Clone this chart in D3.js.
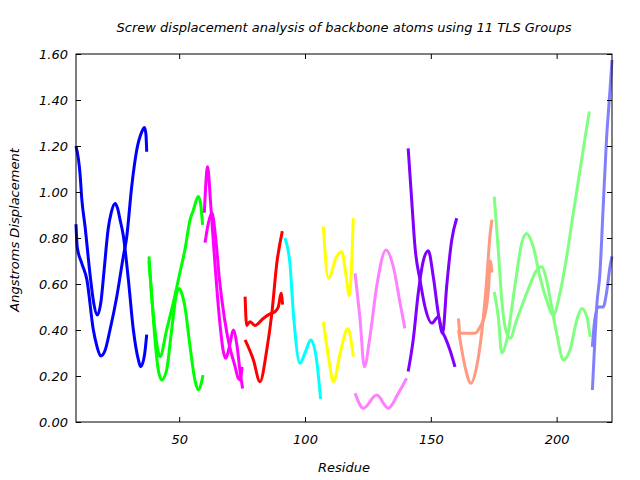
<!DOCTYPE html>
<html><head><meta charset="utf-8">
<script src="https://cdn.jsdelivr.net/npm/d3@7"></script>
<style>body{margin:0;background:#fff}text{font-family:"DejaVu Sans",sans-serif;font-style:italic}</style>
</head><body><svg id="c" width="640" height="480"></svg>
<script>
const title = "Screw displacement analysis of backbone atoms using 11 TLS Groups";
const xLabel = "Residue";
const yLabel = "Angstroms Displacement";
const xTicks = [50, 100, 150, 200];
const yTicks = [0, 0.2, 0.4, 0.6, 0.8, 1.0, 1.2, 1.4, 1.6];
const groupColors = ["#0000ff","#00ff00","#ff00ff","#ff0000","#00ffff","#ffff00","#ff80ff","#8000ff","#ff9980","#80ff80","#8080ff"];

// group 1 (blue)
const g1a = [[9,1.20],[10.6,1.08],[11.3,0.97],[12.6,0.85],[14.6,0.64],[16,0.52],[17.5,0.465],[19,0.53],[20,0.64],[21.8,0.84],[23,0.91],[24.5,0.95],[25.5,0.93],[26.5,0.88],[27.8,0.81],[29.8,0.62],[31.8,0.40],[33.8,0.27],[34.7,0.24],[36.2,0.29],[37.1,0.38]];
const g1b = [[9,0.86],[9.5,0.76],[11.3,0.69],[13.3,0.62],[15.9,0.40],[17.3,0.33],[18.8,0.287],[20.5,0.31],[22.5,0.40],[25.2,0.545],[27.8,0.72],[29.1,0.80],[31.1,1.02],[33.1,1.18],[35.1,1.26],[36.2,1.28],[36.8,1.25],[37.1,1.175]];
// group 2 (green)
const g2a = [[38,0.72],[38.6,0.62],[39.7,0.47],[41.1,0.34],[42.4,0.284],[45,0.40],[47.7,0.52],[50.3,0.65],[52.3,0.75],[54.3,0.878],[55.6,0.92],[57.6,0.98],[58.5,0.95],[59.3,0.857]];
const g2b = [[38,0.70],[39.1,0.545],[40.4,0.357],[41.7,0.226],[43.1,0.183],[45,0.226],[47,0.40],[49,0.56],[49.9,0.58],[51,0.56],[52.3,0.50],[54.3,0.33],[56.3,0.18],[57.6,0.14],[59.5,0.204]];
// group 3 (magenta)
const g3a = [[60,0.91],[61.3,1.11],[62.5,0.95],[64,0.72],[66,0.45],[67.5,0.31],[68.5,0.277],[70,0.33],[71.5,0.40],[73,0.33],[74.2,0.22],[75.2,0.146]];
const g3b = [[60.3,0.78],[61.5,0.86],[63,0.91],[64.5,0.80],[66,0.62],[68,0.45],[70,0.33],[72,0.25],[73.5,0.19],[74.2,0.183],[75,0.24]];
// group 4 (red)
const g4a = [[76.2,0.545],[76.8,0.42],[78.1,0.436],[80.1,0.42],[83.4,0.45],[86.1,0.47],[88.1,0.48],[89.4,0.50],[90.5,0.56],[91.1,0.51]];
const g4b = [[76.2,0.357],[79.5,0.27],[82.1,0.175],[84.8,0.313],[86.8,0.47],[88.8,0.69],[91,0.83]];
// group 5 (cyan)
const g5a = [[92,0.80],[94,0.69],[95.4,0.47],[98,0.255],[100,0.30],[102.3,0.357],[104.6,0.27],[106.2,0.10]];
// group 6 (yellow)
const g6a = [[107.3,0.85],[109.3,0.625],[112.6,0.72],[114.6,0.74],[116.2,0.646],[117.6,0.55],[119.2,0.886]];
const g6b = [[107.3,0.436],[109.3,0.284],[111.3,0.175],[114,0.30],[117,0.407],[118.5,0.34],[119.2,0.284]];
// group 7 (pink)
const g7a = [[119.9,0.646],[121.9,0.443],[123.6,0.24],[125.8,0.37],[128.5,0.59],[132.2,0.748],[135.1,0.675],[137.8,0.516],[139.7,0.407]];
const g7b = [[119.9,0.125],[123.2,0.06],[128.5,0.117],[133.1,0.06],[137.1,0.125],[140.4,0.19]];
// group 8 (purple)
const g8a = [[141,1.19],[142.4,0.965],[143.7,0.762],[145.7,0.617],[147.7,0.50],[150.4,0.43],[153,0.458],[154.3,0.40],[155.6,0.37],[157.6,0.313],[159.6,0.24]];
const g8b = [[141,0.22],[143,0.357],[145,0.56],[147,0.70],[149,0.745],[151,0.63],[153,0.47],[154.7,0.386],[156.3,0.59],[158.3,0.79],[160.3,0.886]];
// group 9 (salmon)
const g9a = [[161,0.45],[161.6,0.386],[164.3,0.386],[167.6,0.386],[169.6,0.414],[171.6,0.47],[173,0.59],[173.6,0.70],[174.3,0.65]];
const g9b = [[161,0.40],[163.6,0.24],[165.9,0.168],[168.2,0.24],[170.2,0.386],[172,0.59],[173.6,0.82],[174.3,0.88]];
// group 10 (light green)
const g10a = [[175.2,0.98],[176.8,0.748],[178.2,0.53],[179.5,0.414],[181.5,0.364],[184.1,0.443],[188.1,0.56],[192.1,0.66],[194,0.675],[196,0.617],[198,0.50],[200,0.386],[202.7,0.27],[205.3,0.313],[208,0.443],[210,0.494],[212,0.458],[213.3,0.37]];
const g10b = [[175.2,0.566],[176.8,0.458],[178.2,0.30],[180.2,0.357],[183.4,0.59],[186.1,0.777],[188.1,0.82],[190.7,0.762],[193.4,0.63],[196,0.53],[198.7,0.465],[201.3,0.56],[204,0.72],[206.6,0.907],[209.3,1.096],[212,1.284],[213,1.35]];
// group 11 (light blue)
const g11a = [[214.2,0.139],[215.2,0.357],[215.9,0.50],[217.2,0.646],[218.5,0.936],[219.8,1.226],[221.2,1.443],[222,1.574]];
const g11b = [[214.2,0.327],[215,0.43],[216.5,0.50],[218.5,0.50],[219.8,0.56],[221.2,0.675],[222,0.72]];

const series = [[g1a,g1b],[g2a,g2b],[g3a,g3b],[g4a,g4b],[g5a],[g6a,g6b],[g7a,g7b],[g8a,g8b],[g9a,g9b],[g10a,g10b],[g11a,g11b]];

const svg = d3.select("#c");
const L = 76, R = 612, T = 54, B = 422;
const FS = 13;
const x = d3.scaleLinear().domain([9, 222]).range([L, R]);
const y = d3.scaleLinear().domain([0, 1.6]).range([B, T]);

const line = d3.line().x(d => x(d[0])).y(d => y(d[1])).curve(d3.curveMonotoneX);
const plot = svg.append("g");
series.forEach((grp, i) => {
  grp.forEach(s => {
    plot.append("path").attr("d", line(s)).attr("fill", "none")
      .attr("stroke", groupColors[i]).attr("stroke-width", 3).attr("stroke-linejoin", "round");
  });
});

function styleAxis(g){ g.selectAll(".domain").remove(); g.selectAll("line").attr("stroke","#000"); g.selectAll("text").attr("font-size",FS).attr("fill","#000").attr("font-family","DejaVu Sans").attr("font-style","italic"); }
svg.append("g").attr("transform",`translate(0,${B})`).call(d3.axisBottom(x).tickValues(xTicks).tickSizeInner(-5).tickSizeOuter(0).tickPadding(13)).call(styleAxis);
svg.append("g").attr("transform",`translate(0,${T})`).call(d3.axisTop(x).tickValues(xTicks).tickSizeInner(-5).tickSizeOuter(0).tickFormat("")).call(styleAxis);
svg.append("g").attr("transform",`translate(${L},0)`).call(d3.axisLeft(y).tickValues(yTicks).tickFormat(d3.format(".2f")).tickSizeInner(-5).tickSizeOuter(0).tickPadding(8)).call(styleAxis);
svg.append("g").attr("transform",`translate(${R},0)`).call(d3.axisRight(y).tickValues(yTicks).tickSizeInner(-5).tickSizeOuter(0).tickFormat("")).call(styleAxis);
svg.append("rect").attr("x",L).attr("y",T).attr("width",R-L).attr("height",B-T).attr("fill","none").attr("stroke","#000").attr("stroke-width",1);

svg.append("text").attr("x",(L+R)/2).attr("y",32).attr("text-anchor","middle").attr("font-size",FS).text(title);
svg.append("text").attr("x",(L+R)/2).attr("y",472).attr("text-anchor","middle").attr("font-size",FS).text(xLabel);
svg.append("text").attr("transform","translate(19,230) rotate(-90)").attr("text-anchor","middle").attr("font-size",FS).text(yLabel);
</script></body></html>
